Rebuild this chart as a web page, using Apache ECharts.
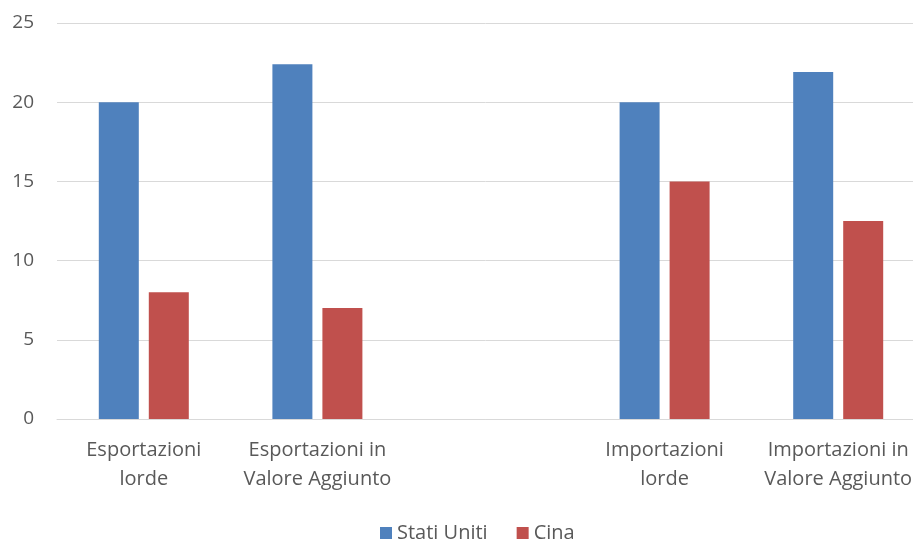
<!DOCTYPE html>
<html><head><meta charset="utf-8">
<script src="https://cdn.jsdelivr.net/npm/echarts@6/dist/echarts.min.js"></script>
<style>html,body{margin:0;padding:0;background:#fff}#c{width:913px;height:541px}</style>
</head><body><div id="c"></div>
<script>
const categories = ['Esportazioni\nlorde', 'Esportazioni in\nValore Aggiunto', '', 'Importazioni\nlorde', 'Importazioni in\nValore Aggiunto'];
const seriesNames = ['Stati Uniti', 'Cina'];
const usValues = [20, 22.4, null, 20, 21.9];
const cinaValues = [8, 7, null, 15, 12.5];
const yTicks = [0, 5, 10, 15, 20, 25];

const font = '"Open Sans", "Noto Sans", sans-serif';
const chart = echarts.init(document.getElementById('c'));
chart.setOption({
  animation: false,
  textStyle: { fontFamily: font },
  grid: { left: 57, width: 868, top: 23, bottom: 122, containLabel: false, outerBoundsMode: 'none' },
  legend: {
    data: seriesNames, left: 375, top: 518, itemWidth: 12, itemHeight: 12, itemGap: 29,
    icon: 'rect',
    textStyle: { fontSize: 20, color: '#595959', fontFamily: font }
  },
  xAxis: {
    type: 'category', data: categories,
    axisLine: { show: true, lineStyle: { color: '#d9d9d9', width: 1 } },
    axisTick: { show: false },
    axisLabel: { interval: 0, fontSize: 20, color: '#595959', lineHeight: 29, margin: 17, fontFamily: font }
  },
  yAxis: {
    type: 'value', min: yTicks[0], max: yTicks[yTicks.length - 1], interval: 5,
    axisLine: { show: false }, axisTick: { show: false },
    splitLine: { lineStyle: { color: '#d9d9d9', width: 1 } },
    axisLabel: { fontSize: 19, color: '#595959', margin: 23, fontFamily: font }
  },
  series: [
    { name: seriesNames[0], type: 'bar', data: usValues, barWidth: 40, barGap: '25%', itemStyle: { color: '#4f81bd' } },
    { name: seriesNames[1], type: 'bar', data: cinaValues, barWidth: 40, barGap: '25%', itemStyle: { color: '#c0504d' } }
  ]
});
</script></body></html>
